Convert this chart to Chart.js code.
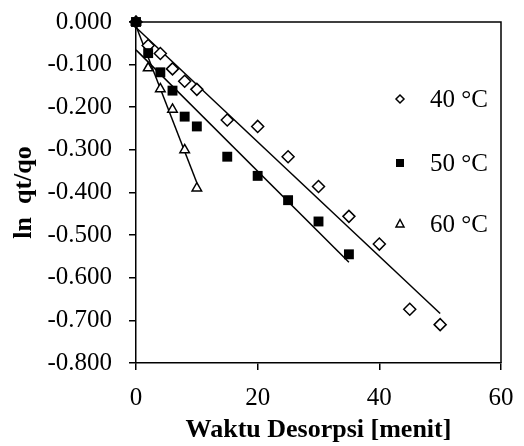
<!DOCTYPE html>
<html>
<head>
<meta charset="utf-8">
<script src="https://cdn.jsdelivr.net/npm/chart.js"></script>
<style>
  html, body { margin: 0; padding: 0; background: #fff; }
  #wrap { width: 524px; height: 446px; }
</style>
</head>
<body>
<div id="wrap"><canvas id="desorpsiChart" width="524" height="446"></canvas></div>
<script>
// data: time [menit] and ln qt/qo
const time40 = [0, 2, 4, 6, 8, 10, 15, 20, 25, 30, 35, 40, 45, 50];
const lnq40 = [0, -0.055, -0.074, -0.110, -0.139, -0.158, -0.230, -0.245, -0.316, -0.386, -0.456, -0.521, -0.674, -0.710];

const time50 = [0, 2, 4, 6, 8, 10, 15, 20, 25, 30, 35];
const lnq50 = [0, -0.073, -0.118, -0.161, -0.222, -0.245, -0.316, -0.361, -0.418, -0.468, -0.545];

const time60 = [0, 2, 4, 6, 8, 10];
const lnq60 = [0, -0.108, -0.157, -0.205, -0.300, -0.390];

const seriesLabels = ["40 °C", "50 °C", "60 °C"];
const xTicks = [0, 20, 40, 60];
const yMin = -0.8, yMax = 0, yStep = 0.1;

// turn x/y arrays into points
function toPoints(xs, ys) {
  let pts = [];
  for (let i = 0; i < xs.length; i++) {
    pts.push({ x: xs[i], y: ys[i] });
  }
  return pts;
}

// least squares line over the data range (like the Excel trendline)
function trend(xs, ys) {
  let n = xs.length, sx = 0, sy = 0, sxy = 0, sxx = 0;
  for (let i = 0; i < n; i++) {
    sx += xs[i]; sy += ys[i];
    sxy += xs[i] * ys[i]; sxx += xs[i] * xs[i];
  }
  let b = (n * sxy - sx * sy) / (n * sxx - sx * sx);
  let a = (sy - b * sx) / n;
  let x0 = Math.min(...xs), x1 = Math.max(...xs);
  return [{ x: x0, y: a + b * x0 }, { x: x1, y: a + b * x1 }];
}

const serif = "'Liberation Serif', 'Times New Roman', serif";

function trendSet(xs, ys) {
  return {
    type: "line",
    data: trend(xs, ys),
    borderColor: "#000",
    borderWidth: 1.5,
    pointRadius: 0,
    fill: false,
    order: 5,
  };
}

// plot border (top + right) and the legend drawn inside the plot area
const plotExtras = {
  id: "plotExtras",
  beforeDatasetsDraw(chart) {
    const a = chart.chartArea;
    const ctx = chart.ctx;
    ctx.save();
    ctx.strokeStyle = "#000";
    ctx.lineWidth = 1.5;
    ctx.beginPath();
    ctx.moveTo(a.left, a.top);
    ctx.lineTo(a.right, a.top);
    ctx.lineTo(a.right, a.bottom);
    ctx.stroke();
    ctx.restore();
  },
  afterDraw(chart) {
    const a = chart.chartArea;
    const ctx = chart.ctx;
    const rows = [a.top + 77, a.top + 141, a.top + 202];
    const mx = a.right - 101;
    ctx.save();
    ctx.strokeStyle = "#000";
    ctx.lineWidth = 1.5;
    for (let i = 0; i < seriesLabels.length; i++) {
      const y = rows[i];
      ctx.beginPath();
      if (i === 0) {
        ctx.moveTo(mx, y - 4); ctx.lineTo(mx + 4, y); ctx.lineTo(mx, y + 4); ctx.lineTo(mx - 4, y);
        ctx.closePath();
        ctx.fillStyle = "#fff"; ctx.fill(); ctx.stroke();
      } else if (i === 1) {
        ctx.fillStyle = "#000";
        ctx.fillRect(mx - 4, y - 4, 8, 8);
      } else {
        ctx.moveTo(mx, y - 4.5); ctx.lineTo(mx + 4, y + 3); ctx.lineTo(mx - 4, y + 3);
        ctx.closePath();
        ctx.fillStyle = "#fff"; ctx.fill(); ctx.stroke();
      }
      ctx.fillStyle = "#000";
      ctx.font = "25px " + serif;
      ctx.textAlign = "left";
      ctx.textBaseline = "middle";
      ctx.fillText(seriesLabels[i], a.right - 71, y + 1);
    }
    ctx.restore();
  },
};

let myChart = document.getElementById("desorpsiChart").getContext("2d");
let chart = new Chart(myChart, {
  type: "scatter",
  data: {
    datasets: [
      {
        label: seriesLabels[1],
        data: toPoints(time50, lnq50),
        pointStyle: "rect",
        pointRadius: 7,
        pointBackgroundColor: "#000",
        pointBorderColor: "#000",
        pointBorderWidth: 0,
        clip: false,
        order: 0,
      },
      {
        label: seriesLabels[0],
        data: toPoints(time40, lnq40),
        pointStyle: "rectRot",
        pointRadius: 6,
        pointBackgroundColor: "#fff",
        pointBorderColor: "#000",
        pointBorderWidth: 1.5,
        clip: false,
        order: 1,
      },
      {
        label: seriesLabels[2],
        data: toPoints(time60, lnq60),
        pointStyle: "triangle",
        pointRadius: 5.5,
        pointBackgroundColor: "#fff",
        pointBorderColor: "#000",
        pointBorderWidth: 1.5,
        clip: false,
        order: 2,
      },
      trendSet(time40, lnq40),
      trendSet(time50, lnq50),
      trendSet(time60, lnq60),
    ],
  },
  options: {
    responsive: false,
    animation: false,
    layout: { padding: { left: 0, right: 23, top: 22, bottom: 0 } },
    plugins: {
      legend: { display: false },
      tooltip: { enabled: false },
    },
    scales: {
      x: {
        type: "linear",
        min: 0,
        max: 60,
        afterBuildTicks: (s) => { s.ticks = xTicks.map((v) => ({ value: v })); },
        afterFit: (s) => { s.height = 83; s.paddingLeft = 0; s.paddingRight = 0; },
        grid: { drawOnChartArea: false, tickLength: 7, color: "#000", lineWidth: 1.5 },
        border: { color: "#000", width: 1.5 },
        ticks: { color: "#000", padding: 13, font: { family: serif, size: 25 } },
        title: {
          display: true,
          text: "Waktu Desorpsi [menit]",
          color: "#000",
          font: { family: serif, size: 26, weight: "bold" },
          padding: { top: 0, bottom: 0 },
        },
      },
      y: {
        min: yMin,
        max: yMax,
        afterFit: (s) => { s.width = 136; s.paddingTop = 0; s.paddingBottom = 0; },
        grid: { drawOnChartArea: false, tickLength: 7, color: "#000", lineWidth: 1.5 },
        border: { color: "#000", width: 1.5 },
        ticks: {
          stepSize: yStep,
          color: "#000",
          padding: 17,
          font: { family: serif, size: 25 },
          callback: (v) => Number(v).toFixed(3),
        },
        title: {
          display: true,
          text: "ln  qt/qo",
          color: "#000",
          font: { family: serif, size: 26, weight: "bold" },
          padding: { top: 9, bottom: 0 },
        },
      },
    },
  },
  plugins: [plotExtras],
});
</script>
</body>
</html>
